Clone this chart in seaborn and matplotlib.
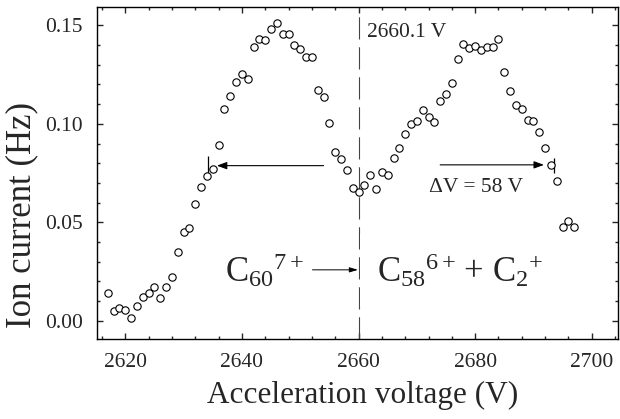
import matplotlib
matplotlib.use("Agg")
import matplotlib.pyplot as plt
import seaborn as sns
import pandas as pd
from matplotlib.ticker import MultipleLocator, FormatStrFormatter

# acceleration voltage (V) and ion current (Hz)
voltage = [2617, 2618, 2619, 2620, 2621, 2622, 2623, 2624, 2625, 2626,
           2627, 2628, 2629, 2630, 2631, 2632, 2633, 2634, 2635, 2636,
           2637, 2638, 2639, 2640, 2641, 2642, 2643, 2644, 2645, 2646,
           2647, 2648, 2649, 2650, 2651, 2652, 2653, 2654, 2655, 2656,
           2657, 2658, 2659, 2660, 2661, 2662, 2663, 2664, 2665, 2666,
           2667, 2668, 2669, 2670, 2671, 2672, 2673, 2674, 2675, 2676,
           2677, 2678, 2679, 2680, 2681, 2682, 2683, 2684, 2685, 2686,
           2687, 2688, 2689, 2690, 2691, 2692, 2693, 2694, 2695, 2696,
           2697]
current = [0.0141, 0.0051, 0.0064, 0.0056, 0.0014, 0.0073, 0.0123, 0.0141, 0.0174, 0.0118,
           0.0171, 0.0225, 0.0349, 0.0453, 0.0471, 0.0594, 0.0682, 0.0736, 0.0770, 0.0893,
           0.1075, 0.1144, 0.1215, 0.1252, 0.1230, 0.1392, 0.1430, 0.1426, 0.1481, 0.1514,
           0.1455, 0.1455, 0.1399, 0.1379, 0.1339, 0.1339, 0.1173, 0.1136, 0.1007, 0.0859,
           0.0821, 0.0766, 0.0674, 0.0653, 0.0690, 0.0741, 0.0669, 0.0758, 0.0738, 0.0826,
           0.0880, 0.0948, 0.1000, 0.1017, 0.1071, 0.1034, 0.1012, 0.1118, 0.1152, 0.1207,
           0.1330, 0.1405, 0.1387, 0.1397, 0.1376, 0.1392, 0.1392, 0.1430, 0.1262, 0.1169,
           0.1095, 0.1075, 0.1020, 0.1017, 0.0959, 0.0877, 0.0790, 0.0711, 0.0479, 0.0508,
           0.0479]

center_v = 2660.1
left_mark = 2634.1
right_mark = 2693.5

sns.set_style("ticks")
plt.rcParams["font.family"] = ["Liberation Serif", "DejaVu Serif"]
plt.rcParams["mathtext.fontset"] = "custom"
plt.rcParams["mathtext.rm"] = "Liberation Serif"
plt.rcParams["mathtext.it"] = "Liberation Serif:italic"

df = pd.DataFrame({"voltage": voltage, "current": current})

fig = plt.figure(figsize=(6.2, 4.19), dpi=100)
ax = fig.add_axes([0.156, 0.191, 0.8408, 0.7916])

sns.scatterplot(data=df, x="voltage", y="current", ax=ax, marker="o", s=28,
                fc="white", ec="black", linewidth=0.8, zorder=3)

ax.set_xlim(2615.1, 2704.5)
ax.set_ylim(-0.0092, 0.1592)
ax.xaxis.set_major_locator(MultipleLocator(20))
ax.xaxis.set_minor_locator(MultipleLocator(4))
ax.yaxis.set_major_locator(MultipleLocator(0.05))
ax.yaxis.set_minor_locator(MultipleLocator(0.01))
ax.yaxis.set_major_formatter(FormatStrFormatter("%.2f"))
ax.tick_params(which="both", direction="in", top=True, right=True, width=1, labelsize=15.5, pad=10)
ax.tick_params(which="major", length=4.3)
ax.tick_params(which="minor", length=2.2)
for sp in ax.spines.values():
    sp.set_linewidth(1)
    sp.set_color("black")

ax.set_xlabel("Acceleration voltage (V)", fontsize=22.5)
ax.set_ylabel("Ion current (Hz)", fontsize=25)
ax.xaxis.set_label_coords(0.51, -0.127)
ax.yaxis.set_label_coords(-0.113, 0.374)

# dashed line at the centre voltage
ax.axvline(center_v, color="#444444", lw=0.8, dashes=(20, 7), zorder=1)
ax.text(center_v + 1.3, 0.1462, "2660.1 V", fontsize=15.5, va="center", ha="left")

# arrows for the shift
ax.annotate("", xy=(2635.7, 0.0788), xytext=(2654.0, 0.0788),
            arrowprops=dict(arrowstyle="-|>,head_length=0.6,head_width=0.22", color="black", lw=0.8,
                            shrinkA=0, shrinkB=0))
ax.annotate("", xy=(2691.8, 0.0792), xytext=(2674.0, 0.0792),
            arrowprops=dict(arrowstyle="-|>,head_length=0.6,head_width=0.22", color="black", lw=0.8,
                            shrinkA=0, shrinkB=0))
ax.vlines([left_mark], 0.0733, 0.0838, color="black", lw=0.9)
ax.vlines([right_mark], 0.0751, 0.0827, color="black", lw=0.9)
ax.text(2672.1, 0.0675, "\u0394V = 58 V", fontsize=15.5, va="center", ha="left")

# reaction
ax.text(2637.1, 0.0200, r"C$_{60}$$^{7+}$", fontsize=25, va="baseline", ha="left")
ax.text(2663.2, 0.0200, r"C$_{58}$$^{6+}\,$+ C$_{2}$$^{+}$", fontsize=25, va="baseline", ha="left",
        bbox=dict(boxstyle="square,pad=0.5", fc="white", ec="none"), zorder=2)
ax.annotate("", xy=(2659.9, 0.0259), xytext=(2652.1, 0.0259),
            arrowprops=dict(arrowstyle="-|>,head_length=0.5,head_width=0.15", color="black", lw=0.7,
                            shrinkA=0, shrinkB=0), zorder=4)

fig.savefig("out.png", dpi=100)
